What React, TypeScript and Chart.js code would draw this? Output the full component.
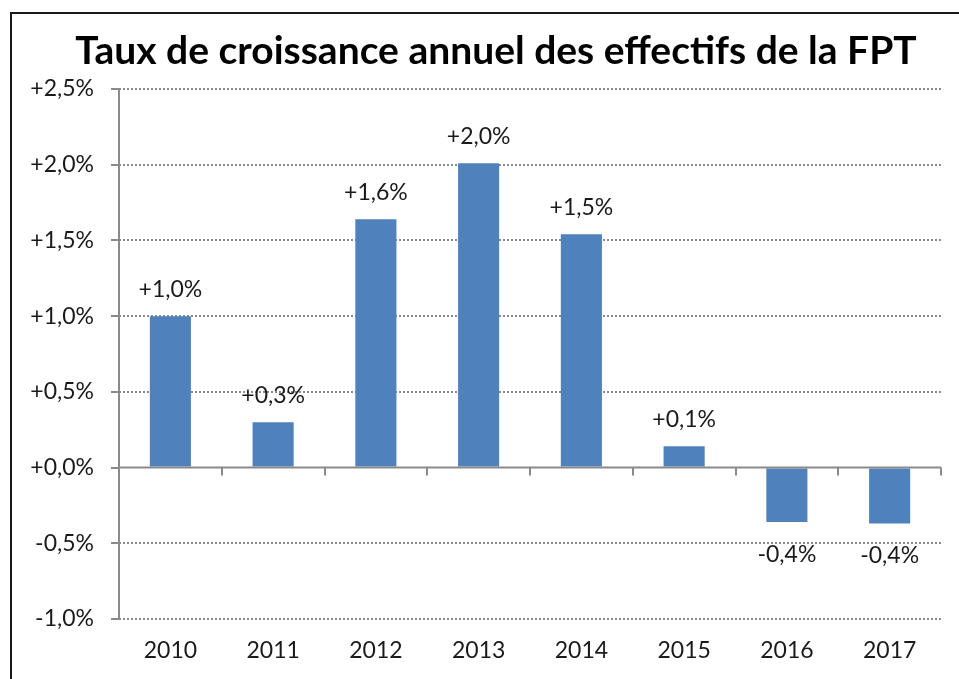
import React, { useEffect, useRef } from 'react';
import { Chart, registerables } from 'chart.js';

Chart.register(...registerables);

const TITLE = 'Taux de croissance annuel des effectifs de la FPT';
const years = ['2010', '2011', '2012', '2013', '2014', '2015', '2016', '2017'];
const growth = [1.0, 0.3, 1.64, 2.01, 1.54, 0.14, -0.36, -0.37];
const valueLabels = ['+1,0%', '+0,3%', '+1,6%', '+2,0%', '+1,5%', '+0,1%', '-0,4%', '-0,4%'];
const yTickValues = [-1.0, -0.5, 0.0, 0.5, 1.0, 1.5, 2.0, 2.5];
const yTickLabels = ['-1,0%', '-0,5%', '+0,0%', '+0,5%', '+1,0%', '+1,5%', '+2,0%', '+2,5%'];

const FONT = 'Lato, "Open Sans", sans-serif';
const AXIS_GRAY = '#8a8a8a';
const TEXT = '#1a1a1a';

const overlayPlugin = {
  id: 'overlay',
  beforeDraw(chart: any) {
    const { ctx } = chart;
    ctx.save();
    ctx.fillStyle = '#000';
    ctx.font = `bold 39px ${FONT}`;
    ctx.textAlign = 'center';
    ctx.textBaseline = 'middle';
    ctx.fillText(TITLE, 496, 51);
    ctx.restore();
  },
  afterDatasetsDraw(chart: any) {
    const { ctx, chartArea, scales } = chart;
    const y = scales.y;
    const x = scales.x;
    const y0 = y.getPixelForValue(0);
    ctx.save();
    ctx.strokeStyle = AXIS_GRAY;
    ctx.lineWidth = 2;
    ctx.setLineDash([]);
    ctx.beginPath();
    ctx.moveTo(chartArea.left, chartArea.top - 1);
    ctx.lineTo(chartArea.left, chartArea.bottom + 1);
    ctx.stroke();
    ctx.beginPath();
    ctx.moveTo(chartArea.left, y0);
    ctx.lineTo(chartArea.right, y0);
    ctx.stroke();
    const n = years.length;
    const w = (x.right - x.left) / n;
    for (let i = 1; i <= n; i++) {
      const px = Math.round(x.left + i * w);
      ctx.beginPath();
      ctx.moveTo(px, y0);
      ctx.lineTo(px, y0 + 8);
      ctx.stroke();
    }
    const meta = chart.getDatasetMeta(0);
    ctx.fillStyle = TEXT;
    ctx.font = `23px ${FONT}`;
    ctx.textAlign = 'center';
    ctx.textBaseline = 'middle';
    meta.data.forEach((bar: any, i: number) => {
      const v = growth[i];
      const ty = v >= 0 ? bar.y - 27 : bar.y + 32;
      ctx.fillText(valueLabels[i], bar.x, ty);
    });
    ctx.restore();
  },
};

export default function App() {
  const ref = useRef<HTMLCanvasElement | null>(null);
  useEffect(() => {
    if (!ref.current) return;
    const chart = new Chart(ref.current, {
      type: 'bar',
      data: {
        labels: years,
        datasets: [
          {
            data: growth,
            backgroundColor: '#4f81bd',
            borderWidth: 0,
            barPercentage: 0.4,
            categoryPercentage: 1,
          },
        ],
      },
      options: {
        animation: false,
        responsive: false,
        maintainAspectRatio: false,
        layout: { padding: { left: 0, right: 18, top: 89, bottom: 0 } },
        plugins: {
          legend: { display: false },
          tooltip: { enabled: false },
          title: { display: false },
        },
        scales: {
          x: {
            offset: true,
            grid: { display: false, drawTicks: false },
            border: { display: false },
            ticks: { color: TEXT, font: { family: FONT, size: 23 }, padding: 18 },
            afterFit: (s: any) => {
              s.height = 60;
            },
          },
          y: {
            min: -1,
            max: 2.5,
            afterBuildTicks: (s: any) => {
              s.ticks = yTickValues.map((v) => ({ value: v }));
            },
            grid: {
              color: (c: any) => (c.tick && Math.abs(c.tick.value) < 1e-9 ? 'rgba(0,0,0,0)' : '#8a8a8a'),
              lineWidth: 2,
              drawTicks: true,
              tickLength: 8,
              tickColor: AXIS_GRAY,
              tickWidth: 2,
            },
            border: { display: false, dash: [2, 2] },
            ticks: {
              color: TEXT,
              font: { family: FONT, size: 23 },
              padding: 17,
              callback: (v: any) => {
                const idx = yTickValues.findIndex((t) => Math.abs(t - Number(v)) < 1e-9);
                return idx >= 0 ? yTickLabels[idx] : '';
              },
            },
            afterFit: (s: any) => {
              s.width = 119;
            },
          },
        },
      },
      plugins: [overlayPlugin],
    });
    return () => chart.destroy();
  }, []);

  return (
    <div style={{ position: 'absolute', left: 0, top: 0, width: 959, height: 679, background: '#fff' }}>
      <canvas ref={ref} width={959} height={679} style={{ position: 'absolute', left: 0, top: 0 }} />
      <div
        style={{
          position: 'absolute',
          left: 10,
          top: 12,
          width: 949,
          height: 667,
          borderTop: '2px solid #1a1a1a',
          borderLeft: '2px solid #1a1a1a',
          pointerEvents: 'none',
          boxSizing: 'border-box',
        }}
      />
    </div>
  );
}
